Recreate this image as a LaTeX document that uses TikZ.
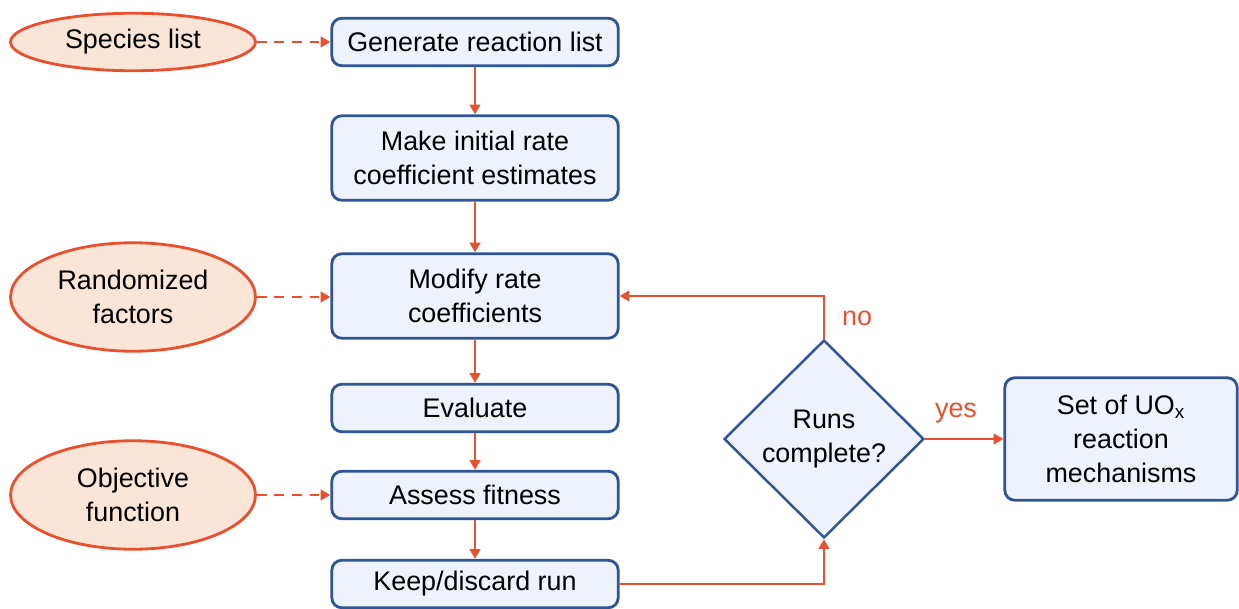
\documentclass[tikz,border=0pt]{standalone}
\usepackage{fontspec}
\setmainfont{Liberation Sans}
\usetikzlibrary{shapes.geometric,arrows.meta}
\definecolor{lineor}{HTML}{E8502F}
\definecolor{ellfill}{HTML}{FBE5D6}
\definecolor{boxfill}{HTML}{EEF2FA}
\definecolor{boxline}{HTML}{2F5597}
\begin{document}
\begin{tikzpicture}[x=0.02cm,y=-0.02cm,
  font=\fontsize{15.3pt}{19.3pt}\selectfont,
  procbox/.style={draw=boxline,fill=boxfill,line width=1.6pt,rounded corners=0.2cm,
    minimum width=5.73cm,align=center,inner sep=0pt},
  inbox/.style={ellipse,draw=lineor,fill=ellfill,line width=1.6pt,minimum width=4.9cm,
    align=center,inner sep=0pt},
  decbox/.style={diamond,draw=boxline,fill=boxfill,line width=1.4pt,minimum width=4cm,
    minimum height=3.96cm,align=center,inner sep=0pt},
  flow/.style={draw=lineor,line width=1.3pt,-{Triangle[length=5.5pt,width=6pt]}},
  dflow/.style={flow,dash pattern=on 5.5pt off 4.5pt},
  lab/.style={text=lineor}]
\useasboundingbox (0,0) rectangle (1239,608);
\node[procbox,minimum height=0.95cm] (gen) at (475,42) {Generate reaction list};
\node[procbox,minimum height=1.69cm] (make) at (475,158) {Make initial rate\\coefficient estimates};
\node[procbox,minimum height=1.69cm] (mod) at (475,296) {Modify rate\\coefficients};
\node[procbox,minimum height=0.95cm] (eval) at (475,408) {Evaluate};
\node[procbox,minimum height=0.95cm] (fit) at (475,495) {Assess fitness};
\node[procbox,minimum height=0.95cm] (keep) at (475,584) {Keep/discard run};
\node[inbox,minimum height=1.15cm] (spec) at (133,42) {Species list};
\node[inbox,minimum height=2.17cm] (rand) at (133,297) {Randomized\\factors};
\node[inbox,minimum height=2.17cm] (obj) at (133,495) {Objective\\function};
\node[decbox] (runs) at (824,439) {Runs\\complete?};
\node[procbox,minimum width=4.65cm,minimum height=2.45cm] (res) at (1121,439) {Set of UO\textsubscript{x}\\reaction\\mechanisms};
\draw[dflow] (spec) -- (gen);
\draw[dflow] (rand.east) -- (mod.west |- rand.east);
\draw[dflow] (obj.east) -- (fit.west |- obj.east);
\draw[flow] (gen) -- (make);
\draw[flow] (make) -- (mod);
\draw[flow] (mod) -- (eval);
\draw[flow] (eval) -- (fit);
\draw[flow] (fit) -- (keep);
\draw[flow] (keep.east) -| (runs.south);
\draw[flow] (runs.north) |- (mod.east);
\draw[flow] (runs.east) -- (res.west);
\node[lab] (no) at (857,318) {no};
\node[lab] (yes) at (956,413) {yes};
\end{tikzpicture}
\end{document}
